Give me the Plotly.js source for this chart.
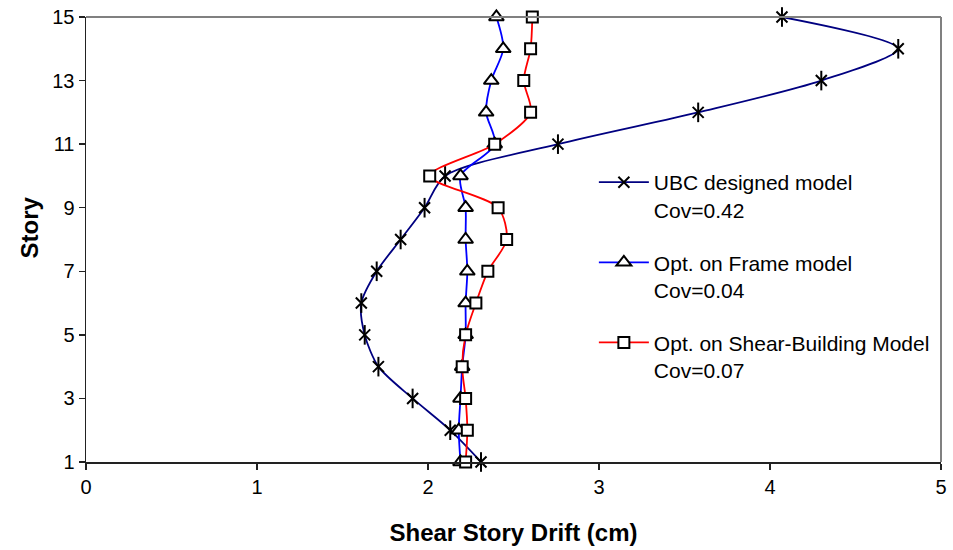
<!DOCTYPE html>
<html>
<head>
<meta charset="utf-8">
<script src="https://cdn.plot.ly/plotly-3.0.1.min.js"></script>
<style>html,body{margin:0;padding:0;background:#fff;}#chart{width:953px;height:550px;}</style>
</head>
<body>
<div id="chart"></div>
<script>
const stories = [1,2,3,4,5,6,7,8,9,10,11,12,13,14,15];
const ubcDrift = [2.31,2.13,1.91,1.71,1.63,1.61,1.70,1.84,1.98,2.10,2.76,3.58,4.30,4.75,4.07];
const frameDrift = [2.19,2.18,2.19,2.20,2.22,2.22,2.23,2.22,2.22,2.19,2.39,2.34,2.37,2.44,2.40];
const shearDrift = [2.22,2.23,2.22,2.20,2.22,2.28,2.35,2.46,2.41,2.01,2.39,2.60,2.56,2.60,2.61];
const seriesNames = ["UBC designed model<br>Cov=0.42","Opt. on Frame model<br>Cov=0.04","Opt. on Shear-Building Model<br>Cov=0.07"];
const xTitle = "Shear Story Drift (cm)";
const yTitle = "Story";

const FONT = "Liberation Sans, Arial, sans-serif";
const traces = [
  {x: ubcDrift, y: stories, name: seriesNames[0], legendgroup: "g1", mode: "lines+markers", cliponaxis: false,
   line: {color: "#000080", width: 1.8, shape: "spline", smoothing: 0.8},
   marker: {symbol: "x-thin-open", size: 11, color: "#000", line: {color: "#000", width: 2}}},
  {x: ubcDrift, y: stories, showlegend: false, legendgroup: "g1", mode: "markers", hoverinfo: "skip", cliponaxis: false,
   marker: {symbol: "line-ns-open", size: 14, color: "#000", line: {color: "#000", width: 2}}},
  {x: frameDrift, y: stories, name: seriesNames[1], legendgroup: "g2", mode: "lines+markers", cliponaxis: false,
   line: {color: "#0000FF", width: 1.8, shape: "spline", smoothing: 0.8},
   marker: {symbol: "triangle-up", size: 13, color: "#fff", line: {color: "#000", width: 2}}},
  {x: shearDrift, y: stories, name: seriesNames[2], legendgroup: "g3", mode: "lines+markers", cliponaxis: false,
   line: {color: "#FF0000", width: 1.8, shape: "spline", smoothing: 0.8},
   marker: {symbol: "square", size: 11, color: "#fff", line: {color: "#000", width: 2}}}
];

const layout = {
  width: 953, height: 550,
  paper_bgcolor: "#fff", plot_bgcolor: "#fff",
  margin: {l: 86, r: 12, t: 17, b: 88},
  font: {family: FONT, size: 20, color: "#000"},
  showlegend: true,
  legend: {x: 0.594, y: 0.674, xanchor: "left", yanchor: "top", valign: "top", itemwidth: 50,
           bgcolor: "rgba(0,0,0,0)", tracegroupgap: 22.5, font: {family: FONT, size: 21, color: "#000"}},
  xaxis: {range: [0, 5], dtick: 1, tick0: 0, showgrid: false, zeroline: false,
          showline: true, linecolor: "#222", linewidth: 1.5,
          ticks: "outside", ticklen: 6, tickcolor: "#222", tickwidth: 1.5,
          tickfont: {family: FONT, size: 20},
          title: {text: "<b>" + xTitle + "</b>", font: {family: FONT, size: 24}, standoff: 27}},
  yaxis: {range: [1, 15], dtick: 2, tick0: 1, showgrid: false, zeroline: false,
          showline: true, linecolor: "#222", linewidth: 1.5,
          ticks: "outside", ticklen: 6, tickcolor: "#222", tickwidth: 1.5,
          tickfont: {family: FONT, size: 20}},
  annotations: [
    {text: "<b>" + yTitle + "</b>", xref: "paper", yref: "paper", x: -0.066, y: 0.526,
     xanchor: "center", yanchor: "middle", textangle: -90, showarrow: false,
     font: {family: FONT, size: 24, color: "#000"}}
  ],
  shapes: [
    {type: "line", xref: "paper", yref: "paper", x0: 0, x1: 1, y0: 1, y1: 1, line: {color: "#808080", width: 2}},
    {type: "line", xref: "paper", yref: "paper", x0: 1, x1: 1, y0: 0, y1: 1, line: {color: "#808080", width: 2}}
  ]
};
Plotly.newPlot("chart", traces, layout, {displayModeBar: false, staticPlot: true});
</script>
</body>
</html>
